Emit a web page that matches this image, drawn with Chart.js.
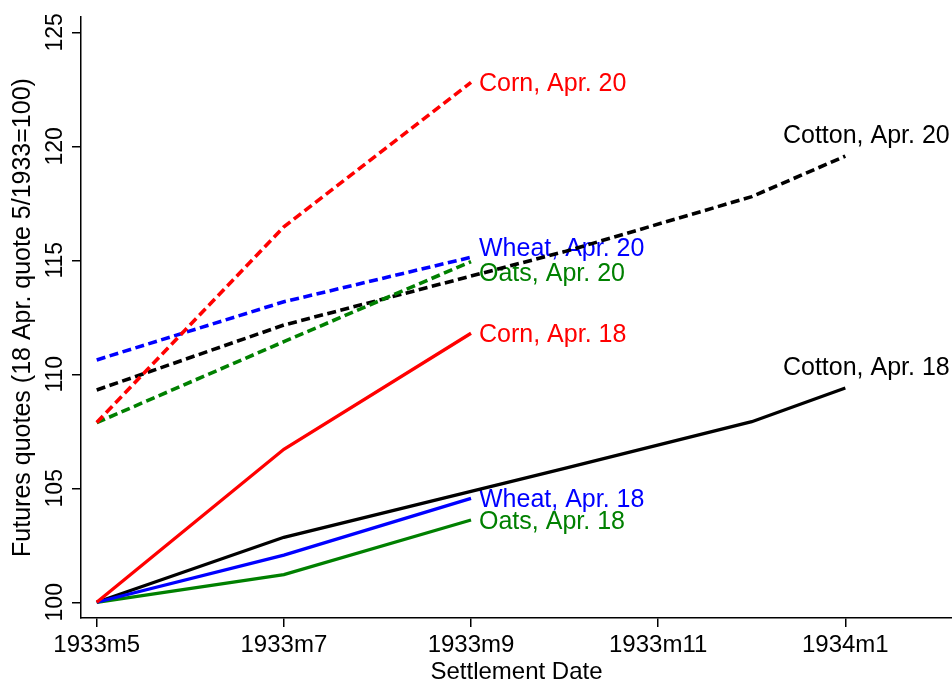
<!DOCTYPE html>
<html>
<head>
<meta charset="utf-8">
<title>Futures quotes</title>
<script src="https://cdn.jsdelivr.net/npm/chart.js@4.4.1/dist/chart.umd.min.js"></script>
<style>
  html, body { margin: 0; padding: 0; background: #fff; }
  #wrap { width: 952px; height: 682px; }
</style>
</head>
<body>
<div id="wrap"><canvas id="futuresChart" width="952" height="682"></canvas></div>
<script>
// Settlement months, counted from 1933m5
const grainMonths = [0, 2, 4];
const cottonMonths = [0, 2, 5, 7, 8];

// Futures quotes (18 Apr. quote 5/1933 = 100)
const cornApr18 = [100, 106.71, 111.8];
const cornApr20 = [107.88, 116.47, 122.8];
const wheatApr18 = [100, 102.07, 104.56];
const wheatApr20 = [110.63, 113.18, 115.13];
const oatsApr18 = [100, 101.21, 103.61];
const oatsApr20 = [107.88, 111.43, 114.94];
const cottonApr18 = [100, 102.85, 105.87, 107.92, 109.4];
const cottonApr20 = [109.31, 112.16, 115.38, 117.79, 119.57];

// Axis ticks
const xTickValues = [0, 2, 4, 6, 8];
const xTickLabels = ['1933m5', '1933m7', '1933m9', '1933m11', '1934m1'];
const yTickValues = [100, 105, 110, 115, 120, 125];

const FONT = '"Liberation Sans", Arial, Helvetica, sans-serif';
Chart.defaults.font.family = FONT;
Chart.defaults.color = '#000';

// Build one line series; endLabel says where its name goes
function makeSeries(label, months, values, color, dashed, endLabel) {
    return {
        label: label,
        data: months.map((m, i) => ({ x: m, y: values[i] })),
        borderColor: color,
        borderWidth: dashed ? 3.6 : 3.3,
        borderDash: dashed ? [9, 4.5] : [],
        borderCapStyle: 'butt',
        pointRadius: 0,
        tension: 0,
        fill: false,
        endLabel: endLabel
    };
}

const right = { align: 'left', dx: 8, dy: 2 };

// Series names written next to the last point
const endLabels = {
    id: 'endLabels',
    beforeDatasetsDraw(chart) {
        const ctx = chart.ctx;
        ctx.save();
        ctx.font = '25px ' + FONT;
        ctx.textBaseline = 'middle';
        chart.data.datasets.forEach((ds, i) => {
            const meta = chart.getDatasetMeta(i);
            const last = meta.data[meta.data.length - 1];
            const pos = ds.endLabel;
            ctx.fillStyle = ds.borderColor;
            ctx.textAlign = pos.align;
            ctx.fillText(ds.label, last.x + pos.dx, last.y + pos.dy);
        });
        ctx.restore();
    }
};

const ctx = document.getElementById('futuresChart').getContext('2d');
new Chart(ctx, {
    type: 'line',
    data: {
        datasets: [
            makeSeries('Corn, Apr. 20', grainMonths, cornApr20, '#ff0000', true, right),
            makeSeries('Corn, Apr. 18', grainMonths, cornApr18, '#ff0000', false, right),
            makeSeries('Wheat, Apr. 20', grainMonths, wheatApr20, '#0000ff', true, { align: 'left', dx: 8, dy: -8 }),
            makeSeries('Wheat, Apr. 18', grainMonths, wheatApr18, '#0000ff', false, right),
            makeSeries('Oats, Apr. 20', grainMonths, oatsApr20, '#008000', true, { align: 'left', dx: 8, dy: 12 }),
            makeSeries('Oats, Apr. 18', grainMonths, oatsApr18, '#008000', false, right),
            makeSeries('Cotton, Apr. 20', cottonMonths, cottonApr20, '#000000', true, { align: 'center', dx: 21, dy: -20 }),
            makeSeries('Cotton, Apr. 18', cottonMonths, cottonApr18, '#000000', false, { align: 'center', dx: 21, dy: -20 })
        ]
    },
    options: {
        responsive: false,
        animation: false,
        devicePixelRatio: 1,
        layout: { padding: { top: 17, right: 0, bottom: 0, left: 0 } },
        plugins: {
            legend: { display: false },
            tooltip: { enabled: false }
        },
        scales: {
            x: {
                type: 'linear',
                bounds: 'data',
                min: -0.168,
                max: 9.14,
                afterBuildTicks: (scale) => { scale.ticks = xTickValues.map(v => ({ value: v })); },
                afterFit: (scale) => { scale.height = 64; },
                ticks: {
                    autoSkip: false,
                    maxRotation: 0,
                    padding: 4,
                    font: { size: 24 },
                    callback: (value, index) => xTickLabels[index]
                },
                grid: { drawOnChartArea: false, drawTicks: true, tickLength: 9, color: '#000', lineWidth: 1.5 },
                border: { display: true, color: '#000', width: 1.5 },
                title: {
                    display: true,
                    text: 'Settlement Date',
                    font: { size: 24, lineHeight: 0.8 },
                    padding: 0
                }
            },
            y: {
                type: 'linear',
                bounds: 'data',
                min: 99.31,
                max: 125.67,
                afterBuildTicks: (scale) => { scale.ticks = yTickValues.map(v => ({ value: v })); },
                afterFit: (scale) => { scale.width = 81; },
                ticks: {
                    minRotation: 90,
                    maxRotation: 90,
                    crossAlign: 'center',
                    padding: -3,
                    font: { size: 23 },
                    callback: (value) => String(value)
                },
                grid: { drawOnChartArea: false, drawTicks: true, tickLength: 9, color: '#000', lineWidth: 1.5 },
                border: { display: true, color: '#000', width: 1.5 },
                title: {
                    display: true,
                    text: 'Futures quotes (18 Apr. quote 5/1933=100)',
                    font: { size: 25 },
                    padding: { top: 8, bottom: 0 }
                }
            }
        }
    },
    plugins: [endLabels]
});
</script>
</body>
</html>
